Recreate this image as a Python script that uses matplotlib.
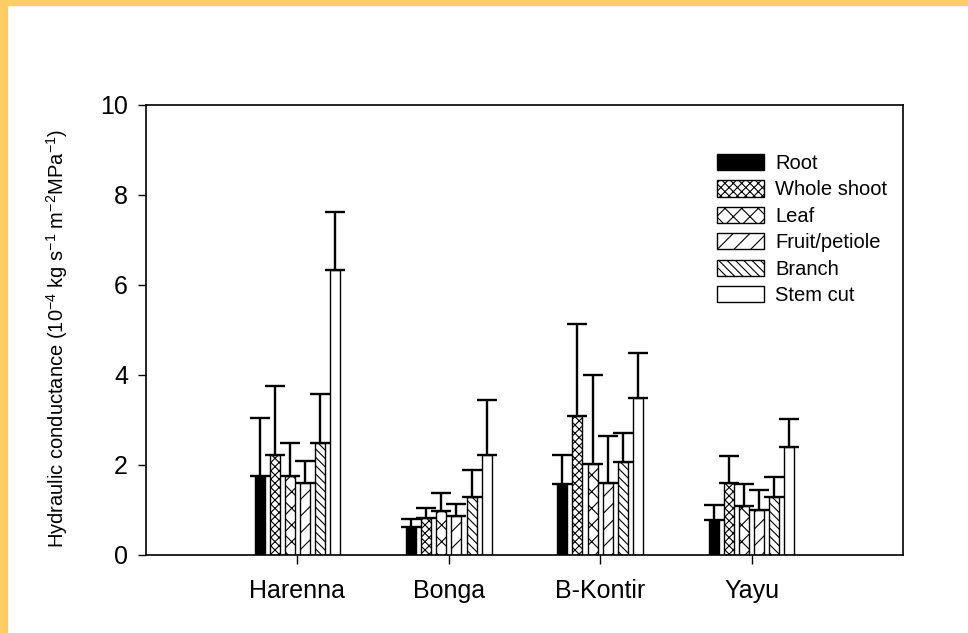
import matplotlib
matplotlib.use("Agg")
import matplotlib.pyplot as plt
import numpy as np
from matplotlib.patches import Rectangle

plt.rcParams['font.family'] = ['Liberation Sans', 'DejaVu Sans']
plt.rcParams['mathtext.fontset'] = 'custom'
plt.rcParams['mathtext.rm'] = 'Liberation Sans'
plt.rcParams['hatch.linewidth'] = 0.8

sites = ["Harenna", "Bonga", "B-Kontir", "Yayu"]
organs = ["Root", "Whole shoot", "Leaf", "Fruit/petiole", "Branch", "Stem cut"]

root = [1.76, 0.62, 1.57, 0.78]
whole_shoot = [2.22, 0.82, 3.10, 1.59]
leaf = [1.76, 0.98, 2.02, 1.10]
fruit = [1.60, 0.86, 1.59, 1.01]
branch = [2.50, 1.28, 2.06, 1.30]
stem_cut = [6.33, 2.23, 3.50, 2.40]

root_err = [1.29, 0.19, 0.66, 0.33]
whole_shoot_err = [1.54, 0.23, 2.03, 0.61]
leaf_err = [0.73, 0.40, 1.98, 0.48]
fruit_err = [0.49, 0.28, 1.05, 0.44]
branch_err = [1.08, 0.62, 0.65, 0.44]
stem_cut_err = [1.29, 1.21, 1.00, 0.62]

values = [root, whole_shoot, leaf, fruit, branch, stem_cut]
errors = [root_err, whole_shoot_err, leaf_err, fruit_err, branch_err, stem_cut_err]
faces = ["black", "white", "white", "white", "white", "white"]
hatches = [None, "xxxx", "xx", "//", "\\\\\\\\", None]

fig = plt.figure(figsize=(9.68, 6.33), dpi=100)
fig.patches.append(Rectangle((0, 0), 7/968, 1, transform=fig.transFigure,
                             color="#FFCC66", zorder=0))
fig.patches.append(Rectangle((0, 1-5/633), 1, 5/633, transform=fig.transFigure,
                             color="#FFCC66", zorder=0))

ax = fig.add_axes([146/968, 1-555/633, (903-146)/968, (555-105)/633])

x = np.arange(1, len(sites)+1)
width = 0.066
step = 0.1
handles = []
for i, (v, e, fc, h, lab) in enumerate(zip(values, errors, faces, hatches, organs)):
    pos = x + (i - 2.5) * step
    b = ax.bar(pos, v, width, color=fc, edgecolor="black", hatch=h,
               linewidth=1.0, label=lab, zorder=2)
    handles.append(b)
    ax.errorbar(pos, v, yerr=[np.zeros(len(v)), e], fmt="none", ecolor="black",
                elinewidth=1.7, capsize=7.2, capthick=1.7, zorder=3)

ax.set_xlim(0, 5)
ax.set_ylim(0, 10)
ax.set_yticks([0, 2, 4, 6, 8, 10])
ax.set_xticks(x)
ax.set_xticklabels(sites)
ax.tick_params(axis='both', direction='out', labelsize=18, width=1.0)
ax.tick_params(axis='y', length=6, pad=7)
ax.tick_params(axis='x', length=6.5, pad=11)
for s in ax.spines.values():
    s.set_linewidth(1.2)

ax.set_ylabel(r"Hydraulic conductance (10$^{-4}$ kg s$^{-1}$ m$^{-2}$MPa$^{-1}$)",
              fontsize=14.5)
ax.yaxis.set_label_coords(70/968, 1-338/633)
ax.yaxis.label.set_transform(fig.transFigure)

leg = fig.legend(handles=handles, labels=organs, loc="upper left",
                 bbox_to_anchor=(717/968, 1-154/633), frameon=False,
                 fontsize=14.5, handlelength=2.35, handleheight=0.85,
                 handletextpad=0.55, labelspacing=0.37, borderpad=0,
                 borderaxespad=0)

fig.savefig("out.png", dpi=100)
